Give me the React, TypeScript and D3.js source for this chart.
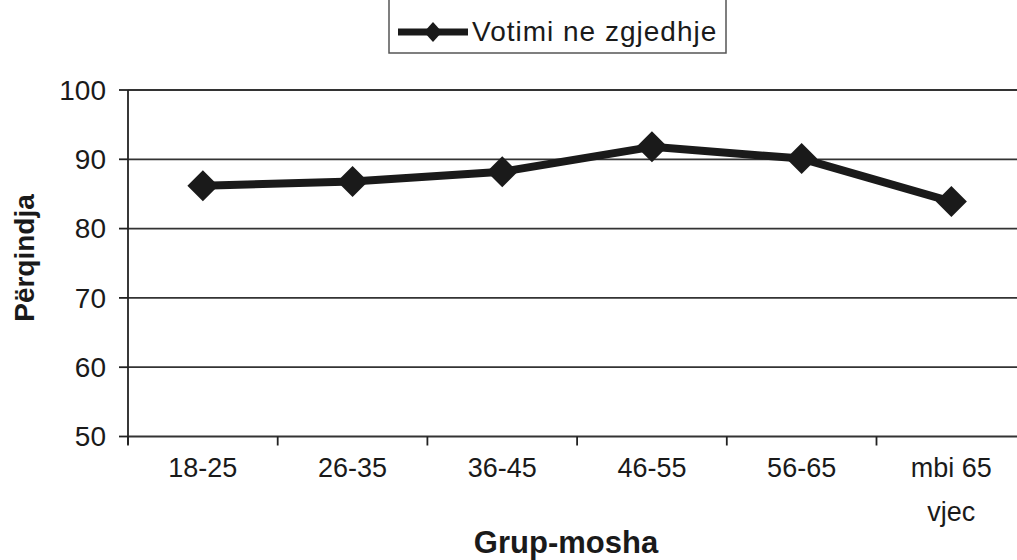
import React from "react";
import * as d3 from "d3";

const categories = ["18-25", "26-35", "36-45", "46-55", "56-65", "mbi 65\nvjec"];
const values = [86.2, 86.8, 88.2, 91.8, 90.1, 83.9];
const yTicks = [50, 60, 70, 80, 90, 100];
const seriesName = "Votimi ne zgjedhje";
const yTitle = "Përqindja";
const xTitle = "Grup-mosha";

const W = 1017;
const H = 560;
const FONT = "'Liberation Sans', Arial, Helvetica, sans-serif";
const INK = "#1a1a1a";

export default function App() {
  const left = 128;
  const step = 149.7;
  const x = d3
    .scaleBand<string>()
    .domain(categories)
    .range([left, left + step * categories.length])
    .paddingInner(0)
    .paddingOuter(0);
  const y = d3.scaleLinear().domain([50, 100]).range([436.5, 90]);

  const line = d3
    .line<number>()
    .x((_, i) => (x(categories[i]) as number) + x.bandwidth() / 2)
    .y((d) => y(d));

  const diamond = (cx: number, cy: number, rx: number, ry: number) =>
    `M${cx},${cy - ry}L${cx + rx},${cy}L${cx},${cy + ry}L${cx - rx},${cy}Z`;

  const boundaries = categories.map((c) => x(c) as number).concat([left + step * categories.length]);

  return (
    <svg
      width={W}
      height={H}
      style={{ position: "absolute", left: 0, top: 0, background: "#fff" }}
      fontFamily={FONT}
    >
      <rect x={0} y={0} width={W} height={H} fill="#fff" />
      {yTicks.map((t) => (
        <line key={"g" + t} x1={left} x2={W} y1={y(t)} y2={y(t)} stroke="#333" strokeWidth={1.8} />
      ))}
      <line x1={left} x2={left} y1={y(100)} y2={y(50) + 8} stroke="#222" strokeWidth={1.8} />
      {yTicks.map((t) => (
        <g key={"yt" + t}>
          <line x1={left - 9} x2={left} y1={y(t)} y2={y(t)} stroke="#222" strokeWidth={1.8} />
          <text x={106} y={y(t)} dy="0.35em" textAnchor="end" fontSize={28} fill={INK}>
            {t}
          </text>
        </g>
      ))}
      {boundaries.map((b, i) => (
        <line key={"xt" + i} x1={b} x2={b} y1={y(50)} y2={y(50) + 9} stroke="#222" strokeWidth={1.8} />
      ))}
      {categories.map((c) => {
        const cx = (x(c) as number) + x.bandwidth() / 2;
        const lines = c.split("\n");
        return (
          <text key={"xl" + c} x={cx} y={477} textAnchor="middle" fontSize={27} fill={INK}>
            {lines.map((l, i) => (
              <tspan key={i} x={cx} dy={i === 0 ? 0 : 44}>
                {l}
              </tspan>
            ))}
          </text>
        );
      })}
      <path d={line(values) || ""} fill="none" stroke={INK} strokeWidth={8} strokeLinejoin="round" />
      {values.map((v, i) => {
        const cx = (x(categories[i]) as number) + x.bandwidth() / 2;
        return <path key={"m" + i} d={diamond(cx, y(v), 15.5, 15.5)} fill={INK} />;
      })}
      <text
        transform={`translate(34,258) rotate(-90)`}
        textAnchor="middle"
        fontSize={28}
        fontWeight="bold"
        fill={INK}
      >
        {yTitle}
      </text>
      <text x={566} y={553} textAnchor="middle" fontSize={31} fontWeight="bold" fill={INK}>
        {xTitle}
      </text>
      <rect x={389} y={-5} width={337} height={58} fill="#fff" stroke="#555" strokeWidth={1.5} />
      <line x1={398} x2={468} y1={32} y2={32} stroke={INK} strokeWidth={7} />
      <path d={diamond(433, 32, 9, 10)} fill={INK} />
      <text x={472} y={41} fontSize={28} letterSpacing={1} fill={INK}>
        {seriesName}
      </text>
    </svg>
  );
}
